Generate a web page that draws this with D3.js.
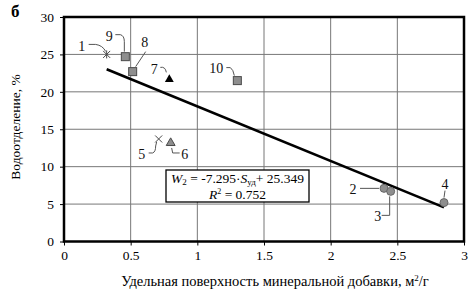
<!DOCTYPE html>
<html>
<head>
<meta charset="utf-8">
<script src="https://cdn.jsdelivr.net/npm/d3@7.8.5/dist/d3.min.js"></script>
<style>
  html, body { margin: 0; padding: 0; background: #fff; }
  svg { display: block; font-family: "Liberation Serif", "Times New Roman", serif; }
</style>
</head>
<body>
<svg id="chart" width="476" height="294"></svg>
<script>
// ── Data ────────────────────────────────────────────────────────────────
const POINT_LABELS = ["1", "2", "3", "4", "5", "6", "7", "8", "9", "10"];
const SURFACE = [0.32, 2.40, 2.45, 2.85, 0.71, 0.80, 0.79, 0.515, 0.46, 1.30]; // м²/г
const BLEEDING = [25.0, 7.1, 6.7, 5.2, 13.7, 13.3, 21.8, 22.7, 24.7, 21.5]; // %
const MARKERS = ["star", "circle", "circle", "circle", "cross", "triangleGray", "triangleBlack", "square", "square", "square"];

const X_TICKS = [0, 0.5, 1, 1.5, 2, 2.5, 3];
const Y_TICKS = [0, 5, 10, 15, 20, 25, 30];

const TREND_SLOPE = -7.295;
const TREND_INTERCEPT = 25.349;
const TREND_R2 = 0.752;
const TREND_RANGE = [0.32, 2.85];

// ── Layout ──────────────────────────────────────────────────────────────
const PLOT = { left: 64, right: 464, top: 17, bottom: 241.5 };
const GRAY = "#8e8e8e";
const DARK = "#4a4a4a";

// leader lines: label offset + path, relative to the marker (px)
const LEADERS = {
  "1":  { lx: -25, ly: -8,  d: "M-18,-10 L-11,-10 Q-4,-9 -1,-3" },
  "2":  { lx: -31, ly: 1,   d: "M-24,0 L-5,0" },
  "3":  { lx: -13, ly: 25,  d: "M-9,24 L-1,24 L-1,5" },
  "4":  { lx: 1,   ly: -18, d: "M1,-12 L0,-5" },
  "5":  { lx: -17, ly: 16,  d: "M-10,14 L-6,14 Q-3,13 -3,7 L-2,3" },
  "6":  { lx: 14,  ly: 13,  d: "M1,6 L2,11 L9,11" },
  "7":  { lx: -15, ly: -9,  d: "M-9,-11 Q-4,-12 -3,-6" },
  "8":  { lx: 12,  ly: -29, d: "M13,-20 L3,-5" },
  "9":  { lx: -16, ly: -20, d: "M-10,-22 L-5,-22 Q-1,-21 -1,-15 L-1,-5" },
  "10": { lx: -21, ly: -12, d: "M-11,-13 L-7,-13 Q-4,-11 -3,-5" }
};

const svg = d3.select("#chart");

const x = d3.scaleLinear().domain([0, 3]).range([PLOT.left, PLOT.right]);
const y = d3.scaleLinear().domain([0, 30]).range([PLOT.bottom, PLOT.top]);

// grid
const grid = svg.append("g");
grid.selectAll("line.vx").data(X_TICKS.slice(1, -1)).join("line")
  .attr("x1", d => x(d)).attr("x2", d => x(d))
  .attr("y1", PLOT.top).attr("y2", PLOT.bottom)
  .attr("stroke", "#777").attr("stroke-width", 1);
grid.selectAll("line.hy").data(Y_TICKS.slice(1, -1)).join("line")
  .attr("x1", PLOT.left).attr("x2", PLOT.right)
  .attr("y1", d => y(d)).attr("y2", d => y(d))
  .attr("stroke", "#777").attr("stroke-width", 1);

// axes
const xAxis = svg.append("g")
  .attr("transform", `translate(0,${PLOT.bottom})`)
  .call(d3.axisBottom(x).tickValues(X_TICKS).tickFormat(d => String(d)).tickSize(4).tickPadding(5));
const yAxis = svg.append("g")
  .attr("transform", `translate(${PLOT.left},0)`)
  .call(d3.axisLeft(y).tickValues(Y_TICKS).tickSize(4).tickPadding(6));
[xAxis, yAxis].forEach(a => {
  a.select(".domain").remove();
  a.selectAll(".tick line").attr("stroke", "#000");
  a.selectAll(".tick text")
    .attr("fill", "#000")
    .style("font-family", "'Liberation Serif', serif")
    .style("font-size", "13.5px");
});

// frame
svg.append("rect")
  .attr("x", PLOT.left).attr("y", PLOT.top)
  .attr("width", PLOT.right - PLOT.left).attr("height", PLOT.bottom - PLOT.top)
  .attr("fill", "none").attr("stroke", "#000").attr("stroke-width", 2.5);

// trend line
svg.append("line")
  .attr("x1", x(TREND_RANGE[0])).attr("y1", y(TREND_SLOPE * TREND_RANGE[0] + TREND_INTERCEPT))
  .attr("x2", x(TREND_RANGE[1])).attr("y2", y(TREND_SLOPE * TREND_RANGE[1] + TREND_INTERCEPT))
  .attr("stroke", "#000").attr("stroke-width", 2.6);

// points
const points = POINT_LABELS.map((label, i) => ({
  label, sx: SURFACE[i], w: BLEEDING[i], marker: MARKERS[i]
}));

const pg = svg.append("g");
points.forEach(p => {
  const cx = x(p.sx), cy = y(p.w);
  const g = pg.append("g").attr("transform", `translate(${cx},${cy})`);
  const L = LEADERS[p.label];
  g.append("path").attr("d", L.d).attr("fill", "none")
    .attr("stroke", "#555").attr("stroke-width", 1);
  g.append("text").attr("x", L.lx).attr("y", L.ly)
    .attr("text-anchor", "middle").attr("dominant-baseline", "central")
    .style("font-size", "14px").attr("fill", "#111").text(p.label);

  switch (p.marker) {
    case "square":
      g.append("rect").attr("x", -4).attr("y", -4).attr("width", 8).attr("height", 8)
        .attr("fill", GRAY).attr("stroke", DARK).attr("stroke-width", 1);
      break;
    case "circle":
      g.append("circle").attr("r", 4).attr("fill", GRAY).attr("stroke", "#666").attr("stroke-width", 1);
      break;
    case "triangleBlack":
      g.append("path").attr("d", d3.symbol(d3.symbolTriangle, 34)())
        .attr("transform", "translate(0,1)").attr("fill", "#000");
      break;
    case "triangleGray":
      g.append("path").attr("d", d3.symbol(d3.symbolTriangle, 34)())
        .attr("transform", "translate(0,1)").attr("fill", GRAY).attr("stroke", DARK).attr("stroke-width", 1);
      break;
    case "cross":
      g.append("path").attr("d", "M-3.5,-3.5 L3.5,3.5 M-3.5,3.5 L3.5,-3.5")
        .attr("stroke", DARK).attr("stroke-width", 1);
      break;
    case "star":
      g.append("path").attr("d", "M-3.5,-3.5 L3.5,3.5 M-3.5,3.5 L3.5,-3.5 M0,-4 L0,4")
        .attr("stroke", DARK).attr("stroke-width", 1);
      break;
  }
});

// equation box
const box = svg.append("g");
box.append("rect").attr("x", 166).attr("y", 170).attr("width", 143).attr("height", 32)
  .attr("fill", "#fff").attr("stroke", "#000").attr("stroke-width", 1.3);
const eq = box.append("text").attr("x", 237.5).attr("y", 182.5)
  .attr("text-anchor", "middle").style("font-size", "13.5px").attr("fill", "#000");
eq.append("tspan").style("font-style", "italic").text("W");
eq.append("tspan").attr("dy", 2.5).style("font-size", "9px").text("2");
eq.append("tspan").attr("dy", -2.5).text(` = ${TREND_SLOPE}·`);
eq.append("tspan").style("font-style", "italic").text("S");
eq.append("tspan").attr("dy", 2.5).style("font-size", "9px").text("уд");
eq.append("tspan").attr("dy", -2.5).text(`+ ${TREND_INTERCEPT}`);
const r2 = box.append("text").attr("x", 237.5).attr("y", 199)
  .attr("text-anchor", "middle").style("font-size", "13.5px").attr("fill", "#000");
r2.append("tspan").style("font-style", "italic").text("R");
r2.append("tspan").attr("dy", -5).style("font-size", "8px").text("2");
r2.append("tspan").attr("dy", 5).text(` = ${TREND_R2}`);

// titles
svg.append("text").attr("x", 11).attr("y", 17)
  .style("font-size", "17px").style("font-weight", "bold").text("б");
svg.append("text")
  .attr("transform", "translate(20,127) rotate(-90)")
  .attr("text-anchor", "middle").style("font-size", "13.5px").text("Водоотделение, %");
const xt = svg.append("text").attr("x", 275).attr("y", 286)
  .attr("text-anchor", "middle").style("font-size", "14.5px");
xt.append("tspan").text("Удельная поверхность минеральной добавки, м");
xt.append("tspan").attr("dy", -5).style("font-size", "9px").text("2");
xt.append("tspan").attr("dy", 5).text("/г");
</script>
</body>
</html>
